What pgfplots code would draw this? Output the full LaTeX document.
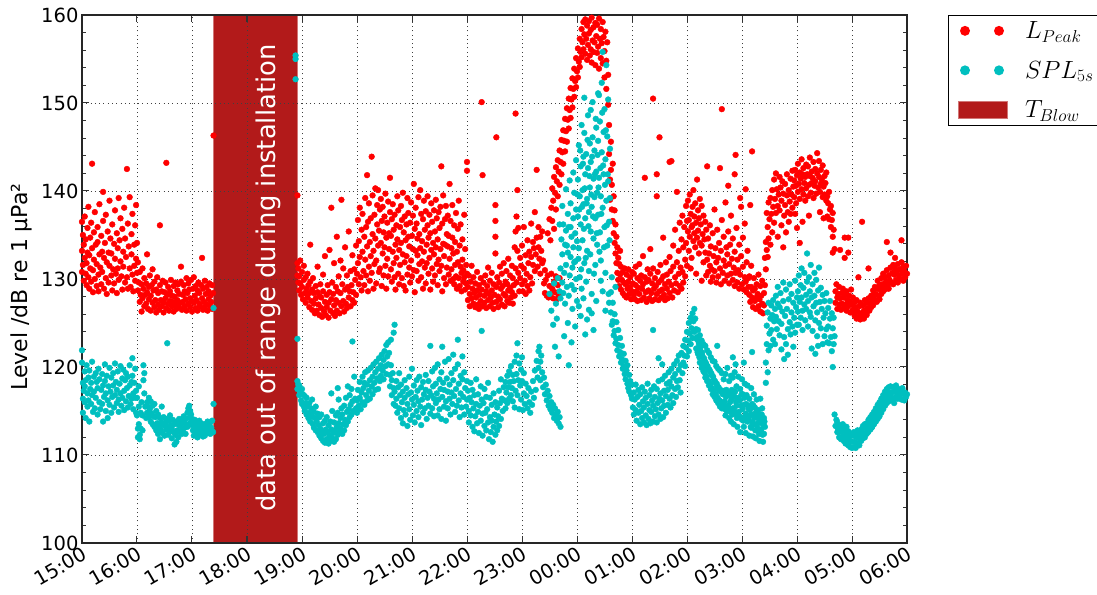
\documentclass[border=0pt]{standalone}
\usepackage[no-math]{fontspec}
\setmainfont{DejaVu Sans}
\usepackage{pgfplots}
\pgfplotsset{compat=1.18}
\definecolor{firebrick}{RGB}{178,26,26}
\definecolor{mplcyan}{RGB}{0,191,191}
\begin{document}
\begin{tikzpicture}
\begin{axis}[
  scale only axis, width=825pt, height=528pt,
  xmin=0, xmax=900, ymin=100, ymax=160,
  xtick={0,60,...,900},
  xticklabels={15:00,16:00,17:00,18:00,19:00,20:00,21:00,22:00,23:00,00:00,01:00,02:00,03:00,04:00,05:00,06:00},
  ytick={100,110,...,160},
  minor y tick num=4,
  tick align=inside,
  major tick length=7pt, minor tick length=4pt,
  every tick/.style={black!80, line width=1pt},
  axis line style={black!85, line width=1.3pt},
  grid=major,
  major grid style={black!75, line width=0.9pt, dash pattern=on 1pt off 3.3pt},
  axis on top,
  ticklabel style={font=\fontsize{19.5}{22}\selectfont},
  /pgf/number format/assume math mode=true,
  xticklabel style={rotate=30, anchor=north east, inner sep=2pt},
  ylabel={Level /dB re 1 µPa²},
  ylabel style={font=\fontsize{22}{24}\selectfont, yshift=2pt, xshift=-8pt},
  legend style={at={(1,1)}, anchor=north west, xshift=41pt, draw=black, line width=1.2pt, fill=white, inner xsep=9pt, inner ysep=4pt, row sep=17pt, font=\fontsize{26}{30}\selectfont, cells={anchor=west}},
]
\addplot[fill=firebrick, draw=firebrick!60!white, line width=0.8pt, forget plot] coordinates {(143.5,100)(234.5,100)(234.5,160)(143.5,160)(143.5,100)};
\node[rotate=90, text=white, font=\fontsize{25.8}{30}\selectfont] at (axis cs:203,130.1) {data out of range during installation};

% L_Peak
\addplot[only marks, mark=*, mark size=2.9pt, color=red, mark options={draw=none},
 legend image code/.code={\path[draw=none,fill=none] (-7pt,-8.5pt) rectangle (58pt,8.5pt); \fill[red, draw=none] (0pt,0pt) circle (5pt); \fill[red, draw=none] (34pt,0pt) circle (5pt);}]
coordinates {
(0,136.5)(0,133.2)(0,130.8)(1,135)(1,131.6)(2,129.8)(2,133.9)(3,132.4)(3,137.1)(4,130.6)(4,134.5)(5,131.8)(5,129.3)(6,135.8)(6,133)(7,130.2)(7,138.2)(8,132.7)(8,128.9)(9,134.7)(9,131.2)(10,136.4)(10,129.7)(11,143.1)(11,133.5)(12,131)(12,128.5)(13,135.3)(13,132.2)(14,130)(14,137.6)(15,133.9)(16,129.2)(16,131.7)(17,135.9)(17,134.2)(18,130.5)(18,128.6)(19,132.8)(19,138.5)(20,131.3)(21,129.4)(21,134.9)(22,133.1)(22,130.8)(23,139.9)(23,136.6)(24,128.9)(24,132.4)(25,134.1)(26,130.1)(26,137.3)(27,131.9)(27,128.3)(28,135.4)(29,133)(29,129.6)(30,131.5)(30,138.9)(31,134.6)(32,130.4)(32,132.9)(33,136.2)(33,128.7)(34,131.1)(35,134)(35,129.5)(36,137.8)(36,132.3)(37,130.6)(38,135.2)(38,128.4)(39,133.5)(39,131.2)(40,139.2)(40,129.9)(41,134.4)(42,132)(42,136.9)(43,130.3)(44,128.8)(44,135.7)(45,133.1)(45,131.4)(46,138.1)(47,129.6)(47,134.6)(48,132.5)(49,142.5)(49,130.2)(50,136.3)(50,128.9)(51,133.7)(52,131.2)(52,139.3)(53,129.1)(54,135.1)(54,132.8)(55,130.5)(55,137.4)(56,128.6)(57,133.9)(57,131.5)(58,136.1)(58,129.8)(59,138.4)(59,132.3)(60,130.7)(60,134.1)
(61,131.9)(61,128.7)(62,129.6)(63,127.4)(63,130.8)(64,128.2)(65,126.3)(65,129.4)(66,131.2)(66,127.8)(67,128.9)(68,126.9)(68,130.1)(69,128.2)(70,127.2)(70,129.5)(71,132.8)(71,128.5)(72,126.6)(73,129.1)(73,127.7)(74,130.4)(75,128.1)(75,126.4)(76,129.3)(77,127.3)(77,131.1)(78,128.7)(79,126.8)(79,129.7)(80,127.6)(81,128.8)(81,126.2)(82,130.2)(83,127.1)(83,128.4)(84,126.5)(85,136.1)(85,129.3)(86,127.6)(87,128.6)(87,126.9)(88,129.8)(89,127.3)(89,126.2)(90,128.5)(91,127.8)(91,129.6)(92,143.2)(92,126.7)(93,128.2)(94,127.2)(94,129.1)(95,126.4)(96,128.6)(96,127.5)(97,129.9)(98,126.9)(98,128.1)(99,127.4)(100,129.2)(100,126.3)(101,128)(102,127.1)(102,129.6)(103,126.6)(104,128.7)(104,127.6)(105,129.4)(106,126.8)(106,128.3)(107,127.3)(108,131.4)(108,129.7)(109,126.5)(110,128.2)(110,127.4)(111,129.3)(112,126.9)(112,128.6)(113,127.7)(114,130.1)(114,126.4)(115,128.4)(116,127.2)(116,129.5)(117,128.8)(118,126.8)(118,127.8)(119,129.9)(120,127.5)(120,126.3)(121,128.9)(122,127.3)(122,130.2)(123,128.1)(124,126.7)(124,129.2)(125,127.6)(126,128.7)(126,126.4)(127,129.6)(128,127.2)(128,128.4)(129,126.9)(130,129.3)(131,132.4)(131,127.8)(132,126.5)(132,128.9)(133,127.4)(134,129.8)(134,126.8)(135,128.3)(136,127.1)(136,129.1)(137,126.4)(138,128.6)(138,127.7)(139,129.5)(140,126.9)(140,128.1)(141,127.4)(142,129.3)(142,126.6)(143,128.4)(143.5,146.3)
(235,139.5)(235,131.8)(235,130.4)(236,129.6)(236,131.2)(237,130.3)(237,128.7)(238,132.1)(238,129.5)(239,128.2)(240,130.8)(240,129.1)(241,127.7)(242,129.9)(242,131.5)(243,128.4)(244,130.2)(244,127.3)(245,128.9)(246,130.6)(246,127.9)(247,129.3)(248,126.8)(248,128.4)(249,133.9)(249,129.7)(250,127.5)(251,128.8)(251,126.5)(252,130.1)(253,127.2)(253,128.4)(254,126.1)(255,129.2)(255,127.8)(256,126.4)(257,128.5)(257,131.4)(258,127.1)(259,125.9)(259,128.1)(260,129.4)(261,126.7)(261,127.9)(262,125.7)(263,128.6)(263,130.5)(264,126.3)(265,127.4)(265,132.6)(266,125.9)(267,128.2)(267,126.8)(268,129.3)(269,127.3)(269,125.6)(270,133.3)(270,128.5)(271,126.4)(272,138.1)(272,127.7)(273,129.6)(274,126.1)(274,128.3)(275,131.8)(275,127)(276,125.8)(277,129.1)(277,127.6)(278,134.8)(278,126.4)(279,128.6)(280,130.3)(280,127.3)(281,126.1)(282,132.1)(282,128.4)(283,139)(283,126.9)(284,129.4)(285,127.5)(285,131.2)(286,126.3)(287,128.8)(287,133.6)(288,127.2)(289,130.4)(289,126.7)(290,129.1)(291,127.9)(291,135.4)(292,128.6)(293,126.9)(293,130.9)(294,129.3)(295,127.6)(295,132.7)(296,128.5)(297,131.1)(297,127.3)(298,129.9)(299,133.8)(299,128.2)(300,130.6)
(301,136.7)(301,131.8)(302,129.4)(302,134.3)(303,138.1)(303,132.5)(304,130.2)(305,135.6)(305,128.7)(306,133.1)(306,137.4)(307,130.9)(308,134.8)(308,129.3)(309,139.2)(309,132.2)(310,135.9)(310,130.4)(311,141.8)(311,133.7)(312,128.6)(312,136.5)(313,131.4)(313,138.6)(314,134.2)(314,129.8)(315,136.9)(315,132.6)(316,143.9)(316,130.7)(317,135.1)(317,139.5)(318,133.2)(318,128.9)(319,137.3)(319,131.7)(320,134.6)(320,140.3)(321,132.1)(321,129.5)(322,136.2)(322,138.4)(323,140.1)(323,133.8)(324,130.8)(324,135.5)(325,137.9)(325,131.2)(326,134.1)(326,139.1)(327,129.2)(327,136.6)(328,132.9)(328,138.2)(329,135.3)(329,130.4)(330,133.6)(330,137.1)(331,131.5)(331,139.7)(332,134.7)(332,128.9)(333,136.4)(333,132.3)(334,138.8)(334,130.3)(335,135.2)(335,133.4)(336,141.5)(336,137.6)(337,131.1)(337,134.9)(338,129.7)(338,136.8)(339,133.1)(339,138.5)(340,131.8)(340,135.6)(341,130.2)(341,137.3)(342,133.9)(342,128.8)(343,136.1)(343,132.4)(344,139.4)(344,134.5)(345,130.6)(345,137.8)(346,133.3)(346,129.4)(347,135.9)(347,131.6)(348,138.3)(348,134.1)(349,130.1)(349,136.7)(350,132.8)(350,139.8)(351,135.3)(351,129.2)(352,137.1)(352,131.9)(353,134.4)(353,128.7)(354,136.2)(354,132.6)(355,139.2)(355,130.5)(356,134.8)(356,137.5)(357,131.3)(357,133.7)(358,129.6)(358,136.4)(359,138.7)(359,132.1)(360,134.9)(360,130.3)(361,137.2)(361,133.4)(362,140.8)(362,131)(363,135.7)(363,128.5)(364,133.2)(364,138.1)(365,130.9)(365,136.3)(366,132.7)(366,134.6)(367,139.3)(367,129.8)(368,135.1)(368,131.7)(369,140.1)(369,133.5)(370,137.4)(370,130.2)(371,134.3)(371,132)(372,136.8)(372,128.9)(373,138.9)(373,133.1)(374,131.3)(374,135.6)(375,129.5)(375,137.7)(376,133.9)(376,131.8)(377,136.1)(377,139.4)(378,130.6)(378,134.7)(379,132.4)(379,137.3)(380,128.8)(380,135.2)(381,133.3)(381,138.6)(382,131.2)(382,136.5)(383,134.1)(383,129.7)(384,137.8)(384,132.8)(385,135.4)(385,130.4)(386,139)(386,133.6)(387,131.7)(387,136.9)(388,129.3)(388,134.5)(389,137.6)(389,132.2)(390,135.8)(390,130.9)(391,138.2)(391,133.4)(392,142.8)(392,131.5)(393,136.3)(393,128.6)(394,134)(394,139.5)(395,132.6)(395,130.1)(396,136.8)(396,133.9)(397,129.4)(397,138.3)(398,135.1)(398,131.3)(399,133.7)(399,137.2)(400,130.5)(400,134.9)(401,140.8)(401,132.3)(402,129.8)(402,136.6)(403,133.5)(403,131.1)(404,138.4)(404,134.7)(405,130)(405,132.9)(406,136.1)(406,129.4)(407,134.2)(407,131.6)(408,137.5)(408,130.3)(409,133.1)(409,128.9)(410,135.7)(410,131.9)(411,130.1)(411,138.9)(412,133.8)(412,129.2)(413,131.4)(413,136.2)(414,130.7)(414,128.6)(415,134.5)(415,132.2)(416,129.7)(416,131)(417,137.3)(417,130.2)(418,128.8)(418,133.4)(419,131.6)(419,129.5)(420,143.3)(420,142.3)(420,130.6)
(421,129.1)(421,127.6)(422,130.4)(423,128.3)(423,126.9)(424,129.7)(425,127.8)(425,131.5)(426,128.9)(427,127.2)(427,130.2)(428,128.4)(429,126.8)(429,129.5)(430,127.9)(431,130.8)(431,128.7)(432,127.1)(433,129.3)(433,126.6)(434,128.2)(435,130.1)(435,127.5)(436,128.8)(436,150.1)(437,141.8)(437,126.9)(438,129.6)(439,128.1)(439,127.3)(440,130.4)(441,128.6)(441,126.7)(442,129.2)(443,127.6)(443,131.3)(444,128.3)(445,126.9)(445,129.8)(446,127.9)(447,128.7)(447,130.7)(448,127.3)(449,129.4)(449,126.6)(450,128.2)(451,134.8)(451,136.6)(451,138.4)(451,132.9)(452,129.1)(452,127.4)(452,146.1)(453,130.2)(454,128)(454,126.8)(455,129.6)(456,131.4)(456,127.7)(457,128.9)(458,130.6)(458,127.1)(459,129.2)(460,128.3)(460,131.8)(461,126.9)(462,129.7)(462,128.1)(463,130.9)(464,127.5)(464,129.4)(465,132.3)(465,128.7)(466,127.3)(467,130.4)(467,129)(468,127.9)(469,131.5)(469,128.5)(470,127.2)(470,130.1)(471,129.3)(472,133.6)(472,128.1)(473,135.4)(473,131.2)(473,148.8)(474,137.1)(474,129.6)(475,140.1)(475,133.2)(476,130.7)(476,135.8)(477,128.6)(478,132.4)(478,130.1)
(479,131.5)(480,129.4)(480,133.8)(481,128.6)(482,131.2)(482,135.9)(483,129.8)(484,132.7)(484,128.3)(485,130.6)(486,134.4)(486,129.2)(487,131.8)(488,128.7)(488,133.1)(489,130.2)(490,132.5)(490,136.3)(491,129.5)(492,134.2)(492,131.6)(493,133.5)(494,137.6)(494,130.9)(495,132.8)(496,142.4)(496,134.7)(497,131.4)(498,133.6)(498,135.9)(499,132.3)(500,134.8)(500,130.6)(501,133.2)(502,135.4)(502,131.8)(503,132.1)(504,129.5)(505,131)(505,128.4)(506,129.9)(507,128.1)(508,130.4)(509,127.9)(510,129.2)(511,128.3)(512,130.6)(513,128.9)(514,127.8)(515,129.7)(516,128.5)(517,130.3)(518,127.7)(519,129.3)(520,128.1)(521,130.1)
(508,135.2)(510,136.8)(511,134.4)(512,138.1)(513,136.6)(513,140.3)(514,138.9)(515,141.6)(515,135.7)(516,139.8)(517,142.7)(517,137.9)(518,141.1)(519,143.5)(519,139.4)(520,142.2)(521,144.6)(521,140.7)(522,143.3)(523,145.8)(523,141.9)(524,144.4)(525,146.9)(525,143.1)(526,145.7)(527,148.2)(527,144.5)(528,146.8)(529,149.4)(529,145.6)(530,148.1)(531,150.5)(531,147.1)(532,149.2)(533,151.7)(533,148.3)(534,150.4)(535,152.8)(535,149.5)(536,151.6)(537,153.9)(537,150.7)(538,152.5)(539,155.1)(539,151.8)(540,153.6)(541,156.2)(541,152.9)(542,154.7)(543,157.3)(543,154.1)(544,155.8)(545,158.4)(545,155.2)(546,156.9)(547,159.2)(547,156.1)(548,157.8)
(549,159.5)(549,155.6)(550,157.3)(551,158.8)(551,154.9)(552,156.6)(553,159.3)(553,157.9)(554,155.4)(555,158.3)(555,156.1)(556,159.7)(556,154.6)(557,157.1)(558,158.6)(558,155.8)(559,156.9)(560,159.1)(560,154.3)(561,157.6)(562,155.7)(562,158.9)(563,156.4)(564,159.6)(564,153.9)(565,157.3)(566,155.1)(566,158.4)(567,156.8)(568,154.5)(568,159.2)(569,157.5)(570,152.9)(570,155.9)(571,158.1)(572,151.6)(572,154.8)(573,156.9)(574,149.8)(574,153.2)
(575,147.5)(575,144.2)(576,141.3)(576,139)(577,145.6)(577,142.4)(578,140.7)(578,137.9)(579,143.1)(579,136.6)(580,139.4)(580,135.2)(581,137.8)(581,134.1)(582,136.2)(582,132.9)(583,134.8)(583,131.8)(584,133.6)(584,130.7)(585,132.4)(585,129.9)(586,131.7)(586,129.2)(587,133.2)(587,130.5)(588,128.8)(588,131.4)(589,129.9)(590,128.4)(590,130.8)(591,129.6)(592,128.1)(592,131.2)(593,129.4)(594,127.9)(594,130.5)(595,128.9)(596,131.1)(596,129.7)(597,128.3)(598,130.2)(598,129.1)(599,127.7)(600,130.8)(600,128.6)
(601,129.5)(602,128.2)(602,130.6)(603,127.7)(604,129.3)(604,131.4)(605,128.6)(606,130.1)(606,127.5)(607,129)(608,131.7)(608,128.3)(609,129.8)(610,127.6)(610,130.4)(611,128.9)(612,132.6)(612,129.4)(613,127.9)(614,141.5)(614,130.2)(615,128.5)(616,129.7)(616,127.4)(617,131.1)(618,128.7)(618,129.9)(619,127.8)(620,130.6)(620,133.4)(621,128.4)(622,129.5)(622,127.5)(623,150.5)(623,131.2)(624,128.9)(625,130.1)(625,127.7)(626,129.2)(627,141.9)(627,139.4)(627,128.3)(628,130.8)(629,127.6)(629,129.6)(630,146.1)(630,128.6)(631,131.6)(632,129.9)(632,127.9)(633,128.8)(634,134.7)(634,130.3)(635,128.2)(636,129.4)(636,127.6)(637,131.9)(638,128.9)(638,130.5)(639,127.8)(640,129.7)(641,143.3)(641,132.5)(641,128.4)(642,130.9)(643,143.4)(643,129.3)(644,127.9)(645,131.4)(645,133.8)(646,128.7)(647,130.2)(647,135.6)(648,129.5)(649,139.9)(649,131.9)(650,128.5)(651,133.2)(651,130.6)(652,136.4)(652,129.2)(653,131.3)(654,134.5)(654,128.9)(655,137.2)(655,130.8)(656,133.6)(656,129.6)(657,135.9)(658,132.2)(658,130.3)(659,138.3)(659,134.1)(660,131.5)(660,136.6)
(661,135.4)(661,138.9)(662,133.2)(662,136.7)(663,139.6)(663,134.8)(664,137.4)(664,131.2)(665,135.9)(665,132.4)(666,138.2)(666,136.1)(667,134.3)(667,140.1)(668,137.1)(668,135.2)(669,133.6)(669,138.6)(670,136.4)(670,130.6)(671,141.3)(671,134.7)(672,137.8)(672,135.5)(673,132.9)(673,136.9)(674,139.1)(674,134.1)(675,136.2)(676,133.8)(676,138.3)(676,129.8)(677,135.1)(678,131.9)(678,137.2)(679,134.5)(680,136.5)(680,133)(681,135.6)(681,130.4)(682,142.8)(682,132.2)
(683,134.6)(683,130.8)(684,132.9)(685,136.1)(685,131.5)(686,129.7)(686,133.7)(687,131.1)(688,135.2)(688,130.2)(689,132.6)(690,137.9)(690,130.9)(691,133.5)(692,129.6)(692,131.9)(693,135.6)(694,132.4)(694,130.3)(695,134.1)(696,142.6)(696,131.2)(697,129.4)(697,133.2)(698,149.3)(698,136.7)(699,130.7)(700,132.1)(700,134.8)(701,129.8)(702,131.5)(702,138.7)(703,133.6)(704,130.4)(704,132.8)(705,135.4)(705,140.6)(706,129.5)(706,131.7)(707,133.9)(708,130.6)(708,137.2)(709,132.3)(710,129.9)(710,134.6)(711,131.3)(712,133.1)(712,129.2)(712,141.9)(713,144.1)(713,130.7)(714,135.8)(715,132.2)(715,129.6)(716,131)(717,133.9)(717,128.9)(718,130.5)(718,139.2)(719,132.6)(719,138.2)(720,129.4)(721,131.4)(721,134.7)(722,128.8)(723,130.2)(723,136.3)(724,129.7)(724,140.2)(725,131.9)(725,128.5)(726,133.2)(727,130.1)(727,129.1)(729,138.4)(731,144.5)
(728,128.2)(728,130.3)(729,127.4)(730,129.1)(730,131.5)(731,127.9)(732,128.7)(732,126.8)(733,130.1)(734,127.5)(734,128.9)(735,126.6)(736,129.4)(736,127.9)(737,128.3)(738,130.5)(738,126.9)(739,127.7)(740,129.2)(740,126.3)(741,128.1)(742,127.2)(742,129.8)(743,126.1)(744,128.4)(744,127)(745,129.3)(745,132.4)
(746,134.2)(746,131.1)(747,133.3)(747,137.5)(748,135.9)(748,132.5)(749,138.7)(749,134.6)(750,136.8)(751,139.2)(751,133.9)(752,137.4)(753,135.3)(753,140.1)(754,138.2)(755,136.4)(755,141.3)(756,139.1)(757,137.5)(757,142)(758,140.2)(759,138.3)(759,134.8)(760,139.6)(761,141.6)(761,137.8)(762,140.4)(763,138.9)(763,136.1)(764,141.1)(765,139.7)(765,133.6)(766,137.2)(767,140.8)(767,138.4)(768,135.3)(769,139.5)(769,141.9)(770,137.6)(771,140.1)(771,136.5)(772,138.8)(773,141.4)(773,137.4)(774,139.6)(775,142.3)(775,138.1)(776,140.5)
(777,141.2)(777,139.3)(778,142.4)(778,137.4)(779,140.6)(779,138.6)(780,141.8)(780,135.8)(781,139.9)(781,143.1)(782,140.8)(783,142.1)(783,139.1)(783,134.1)(784,141.4)(785,140.2)(785,143.6)(786,141.9)(786,136.5)(787,139.6)(787,142.6)(788,140.9)(789,138.9)(789,141.6)(790,143)(790,140.3)(791,141.9)(792,139.4)(792,142.8)(793,140.7)(793,137.2)(794,141.7)(794,143.8)(795,139.8)(796,142.2)(796,140.9)(797,141.5)(798,139.2)(798,143.3)(799,140.6)(800,142.5)(800,141.1)(801,139.7)(802,144.3)(802,142)(803,140.4)(804,141.6)(804,143.4)(805,139.9)(805,137.6)(806,142.4)(806,140.8)(807,141.3)(808,139.3)(808,142.9)(809,140.5)(809,136.9)(810,141.7)(810,139.6)(811,140.9)(812,142.1)(812,138.9)
(813,139.4)(813,137.1)(814,138.6)(815,136.8)(815,139.9)(816,137.9)(817,135.9)(817,138.3)(818,136.7)(819,134.8)(819,137.5)(819,133)(820,135.6)(821,133.4)
(822,128.6)(822,127.3)(823,129.4)(824,127.9)(824,126.6)(825,128.3)(826,127.1)(826,129.1)(827,133.3)(827,127.8)(828,126.5)(829,128.4)(829,127.2)(830,128.9)(831,126.7)(831,127.9)(832,132.4)(832,128.2)(832,134.7)(833,127.1)(834,126.4)(834,128.6)(835,127.6)(836,134.7)(836,126.9)(836,133)(837,128.1)(838,127.4)(838,126.2)(839,128.8)(840,127.1)(841,126.5)(841,127.9)(842,126.1)(843,127.4)(843,125.8)(844,126.8)(845,125.5)(845,127.6)(846,126.3)(847,130.2)(847,125.7)(848,126.9)(849,125.4)(849,127.3)(850,126.1)(851,136.5)(851,125.8)(852,127)(853,126.4)(853,125.5)(854,127.6)(855,126.2)(856,125.9)(856,127.3)(857,126.7)(858,131.2)(858,127.8)(859,126.4)(860,127.2)(861,128.1)(861,126.8)(862,127.6)(863,128.7)(863,127)(864,128.1)(865,127.6)(865,129.1)(866,128.3)(867,127.4)(868,128.9)(868,129.8)(869,128.1)(870,129.3)(870,127.7)(871,128.8)(872,130.1)(872,128.3)(873,129.4)(874,128.6)(874,130.6)(875,129.1)(876,130.2)(876,128.8)(877,129.7)(878,134.2)(878,131)(879,129.3)(880,130.4)(880,128.9)(881,129.9)(882,133)(882,131.3)(883,129.6)(884,130.7)(885,131.6)(885,129.4)(886,130.5)(887,132.4)(887,131.2)(888,129.9)(889,130.8)(890,131.7)(890,129.6)(891,130.4)(892,131.1)(893,130)(894,131.9)(894,134.4)(895,130.6)(896,129.8)(896,131.4)(897,130.9)(898,130.2)(899,131.5)(900,130.6)
};
\addlegendentry{$L_{Peak}$}

% SPL_5s
\addplot[only marks, mark=*, mark size=2.9pt, color=mplcyan, mark options={draw=none},
 legend image code/.code={\path[draw=none,fill=none] (-7pt,-8.5pt) rectangle (58pt,8.5pt); \fill[mplcyan, draw=none] (0pt,0pt) circle (5pt); \fill[mplcyan, draw=none] (34pt,0pt) circle (5pt);}]
coordinates {
(0,121.9)(0,120.5)(1,118.2)(1,116.4)(1,114.8)(2,117.3)(3,119.5)(3,117.8)(3,116)(4,114.2)(4,118.5)(5,120.2)(6,117)(6,115.5)(7,118.8)(7,116.2)(8,113.8)(8,119.6)(9,117.5)(10,115.8)(10,118.2)(11,120.6)(11,116.8)(12,114.9)(13,118.9)(13,117.2)(14,115.3)(15,119.3)(15,116.5)(16,118.3)(17,114.6)(17,117.6)(18,119.8)(19,116)(19,118.6)(20,115.2)(21,117.4)(22,119.2)(22,115.8)(23,113.8)(23,117.9)(24,116.6)(25,120.3)(25,118.4)(26,115)(26,117)(27,119)(28,116.2)(28,114.2)(29,117.8)(30,119.9)(30,115.7)(31,117.2)(32,118.8)(32,114.8)(33,116.6)(34,119.3)(34,117.9)(35,115.4)(36,116.8)(36,120.4)(37,118.3)(38,115.9)(38,117.4)(39,119.5)(40,116.3)(40,114.9)(41,118.1)(42,117)(42,120.1)(43,115.6)(44,118.7)(44,116.5)(45,119.7)(46,117.3)(46,115.1)(47,118.5)(48,116.1)(48,119.3)(49,117.6)(50,115.4)(50,118.9)(51,116.7)(52,120.2)(52,117.9)(53,115.8)(54,118.3)(54,116.4)(55,121)(55,119)(56,117)(56,115.2)(57,118.2)(58,116.5)(58,119.8)(59,114.8)(59,117.3)
(60,116.5)(60,114.5)(61,113)(61,112)(62,117.8)(62,115.5)(62,113.5)(63,112.3)(63,111.8)(64,114.8)(64,113)(65,116)(66,114.5)(66,112.8)(67,118.5)(67,120.2)(68,119.3)(68,117)(69,115.5)(70,114.2)
(71,116)(71,114.8)(72,115.5)(73,114.3)(73,116.5)(74,115.2)(75,113.8)(75,116.1)(76,114.7)(77,115.6)(77,113.5)(78,114.4)(79,115.8)(79,113.2)(80,114.3)(81,112.8)(81,115)(82,113.6)(83,114.6)(83,112.4)(84,113.3)(85,114.2)(85,111.8)(86,112.9)(87,115.5)(87,113.7)(88,112.5)(89,113.4)(89,114.3)(90,112.2)(91,113.6)(92,112.9)(92,114.1)(93,122.7)(93,113.2)(94,112.3)(95,113.9)(96,112.7)(96,114.5)(97,113.4)(98,111.9)(98,113)(99,114)(100,112.6)
(101,111.2)(101,113.5)(102,112.3)(103,111.5)(103,113.8)(104,112.8)(105,113.5)(105,112)(106,114.1)(107,112.6)(107,113.3)(108,114)(109,112.4)(109,113.6)(110,112.9)(111,113.9)(111,114.4)(112,113.1)(113,112.4)(113,114.1)(114,113.5)(115,114.8)(115,113.2)(116,115.3)(117,115.6)(117,114.2)(118,115)(118,113.6)(119,114.6)(120,113.4)(120,114.1)
(121,112.8)(122,113.6)(122,112.2)(123,114)(124,113.1)(124,112.5)(125,113.7)(126,112)(126,113.3)(127,112.7)(128,113.9)(128,112.3)(129,113)(130,112.4)(130,113.6)(131,112.8)(132,112.1)(132,113.4)(133,112.7)(134,113.5)(134,112.2)(135,112.9)(136,113.4)(136,112.5)(137,113.8)(138,112.6)(138,113.2)(139,112.9)(140,113.7)(140,112.4)(141,113.1)(142,112.7)(142,113.9)(143,112.6)(143.5,126.7)(143.5,115.8)
(233,155.4)(233,155)(233,152.7)(235,123.2)
(235,118.4)(235,117.5)(236,118)(237,116.8)(237,117.9)(238,117.2)(239,116.2)(240,117.5)(240,115.8)(241,116.9)(242,115.5)(243,116.7)(243,115)(244,115.9)(245,116.5)(245,114.6)(246,115.5)(247,114.2)(248,115.9)(248,114.8)(249,113.8)(250,115.3)(251,114.4)(251,116.3)(252,113.5)(253,114.9)(253,113.1)(254,114.2)(255,115.5)(255,112.8)(256,113.8)(257,114.7)(257,112.6)(258,113.4)(259,112.2)(259,114.3)(260,113)(261,111.9)(261,114.6)(262,112.7)(263,113.6)(263,111.6)(264,112.4)(265,113.9)(265,111.4)(266,112.9)(267,114.3)(267,111.8)(268,112.6)(269,113.4)(269,111.3)(270,112.2)(271,113.8)(271,111.6)(272,112.9)(272,117)(273,115)(273,111.9)(274,112.5)(275,113.7)(275,111.5)(276,112.8)(277,114.5)(277,111.8)(278,113.2)(279,112.3)(279,114.8)(279,117.6)(280,116.3)(280,113.6)(281,112.6)(282,114.2)(282,113)(283,115.3)(284,112.4)(284,114.6)(285,113.5)(286,115.6)(286,112.8)(287,114)(288,116.5)(288,113.4)(289,114.9)(290,117.8)(290,113.8)(291,115.2)(292,116.8)(292,114.3)(293,115.7)(294,117.5)(294,114.6)(295,116.1)(295,122.9)(296,115)(297,118.9)(298,116.4)(299,115.3)
(300,116.2)(300,114.8)(301,117.4)(302,115.6)(303,118.3)(303,116.5)(304,115.2)(305,117.1)(306,118.9)(306,116)(307,117.6)(308,115.7)(308,118.2)(309,119.4)(310,116.8)(311,118)(311,116.2)(312,119.6)(313,117.3)(314,118.5)(314,116.4)(315,119.9)(316,117.8)(317,118.9)(317,116.9)(318,120.3)(319,118.2)(320,117.4)(320,119.4)(321,120.6)(322,118.7)(323,117.5)(323,119.8)(324,121)(325,118.4)(326,120.2)(326,119)(327,121.4)(328,119.6)(329,118.6)(329,120.8)(330,121.8)(331,120.1)(332,122.5)(332,119.2)(333,121.2)(334,122.8)(334,120.3)(335,121.6)(336,119.1)(336,117.8)(337,120.2)(338,118.5)(338,116.8)(339,119.3)(340,117.6)(340,115.8)(341,124.8)(340,123.9)(337,123.1)
(341,117.2)(342,115.6)(343,118.4)(343,116.4)(344,114.8)(345,117.7)(346,115.3)(346,119.3)(347,116.8)(348,114.2)(348,118)(349,116)(350,113.6)(350,117.2)(351,115.1)(352,118.5)(352,116.5)(353,114.6)(354,117.6)(355,115.8)(355,113.3)(356,116.9)(357,118.9)(357,115.2)(358,114)(359,117.1)(360,119.8)(360,116.3)(361,114.5)(362,117.9)(362,115.7)(363,113.7)(364,116.6)(365,118.5)(365,115)(366,117.3)(367,114.3)(367,116.1)(368,118.9)(369,115.5)(370,117.7)(370,113.4)(371,116.3)(372,114.8)(372,118.3)(373,116.9)(374,115.3)(375,119.1)(375,117.4)(376,114.1)(377,116.5)(378,118.4)(378,115.6)(379,117.2)(380,122.4)(380,114.7)(381,116.8)(382,119.5)(382,115.3)(383,117.8)(384,114.4)(384,116.4)(385,119.9)(386,118.1)(386,115.9)(387,117)(388,114.5)(388,120.3)(389,116.3)(390,118.6)(390,115.2)(391,117.5)(392,119.4)(392,114.1)(393,122.3)(393,116.6)(394,118.2)(395,115.5)(395,117.4)(396,120.6)(397,116.1)(397,113.9)(398,118.7)(399,117.2)(399,115.3)(400,120.9)(401,118)(401,116.4)(402,114.6)(403,119.3)(403,117.1)(404,115.8)(405,121.4)(405,118.5)(406,116.7)(407,114.9)(407,119.8)(408,117.5)(409,115.6)(410,123.1)(410,120.3)(411,118.1)(411,116.2)(412,114.3)(413,119)(413,117)(414,115.4)(415,121.2)(415,118.6)(416,116.6)(417,114.6)(417,119.4)(418,117.6)(419,115.5)(420,118.4)(420,116.3)
(421,117.3)(422,115)(422,113.7)(423,116.5)(424,118.2)(424,114.5)(425,116)(426,113.2)(426,117.4)(427,115.3)(428,112.7)(428,116.8)(429,114.4)(430,118.6)(430,115.8)(431,113.6)(432,116.9)(432,114.9)(433,112.5)(434,115.6)(435,117.8)(435,113.9)(436,116.3)(436,124.1)(437,114.7)(437,112.2)(438,115.9)(439,117.5)(439,113.3)(440,114.8)(441,116.6)(441,112.8)(442,115.2)(443,113.7)(443,118.2)(444,111.8)(445,114.3)(445,116.5)(446,112.6)(447,113.9)(447,115.7)(448,111.5)(449,113.2)(449,117)(450,114.6)(451,112.3)(451,116)(452,113.8)(453,115.4)(453,112.8)(454,114.4)(455,117.3)(455,113.3)(456,115.9)(457,114.1)(457,118.6)(458,116.4)(459,115)(460,117.7)
(461,116.2)(462,118.3)(462,115.3)(463,117.1)(464,119)(464,115.9)(465,117.7)(466,116.4)(466,119.5)(467,118.3)(468,116.8)(468,120.1)(469,117.6)(470,119.1)(470,116.1)(471,118.4)(472,120.6)(472,115.4)(473,117.3)(474,121.3)(474,119.2)(475,122.7)(475,116.8)(476,118.5)(477,120.4)(477,115.2)(478,117.9)(479,119.7)(479,116.3)(480,121.1)(480,118.4)(481,115.1)(482,117)(482,119.3)(483,115.8)(484,118.1)
(485,116.7)(486,115.3)(487,117.6)(488,116)(489,114.8)(490,117.2)(491,115.7)(492,118.4)(493,116.5)(494,119.6)(495,117.4)(496,120.7)(497,118.8)(498,121.8)(498,119.9)(499,122.3)(500,120.6)(500,118.5)(501,121.3)(502,119.4)(503,117.7)(504,118.8)(505,116.9)(506,118)(507,116.2)(508,117.3)(509,115.6)(510,116.7)(511,115.2)(512,116)(513,114.8)(514,115.7)(515,114.2)(516,115.3)(517,114.6)(518,113.9)(519,114.9)(520,113.6)(521,114.3)(522,113.2)
(510,128.3)(512,126.4)(514,124.8)(515,129.5)(516,122.3)(517,127.2)(518,125.5)(519,130.1)(520,121.2)(521,128.6)
(522,131.2)(522,127.8)(523,134.5)(524,129.6)(524,132.8)(525,136.2)(525,128.4)(526,130.7)(527,133.9)(527,127.2)(528,135.5)(528,131.6)(529,129.1)(530,137.4)(530,133)(531,128.1)(531,135.9)(532,130.4)(533,132.5)(533,138.6)(534,129.3)(534,134.8)(535,126.6)(535,131.3)(536,136.9)(536,133.6)(537,128.8)(537,139.8)(538,132)(538,135.2)(539,130)(539,137.9)(540,127.5)(540,134.3)(526,123.5)(530,125)(534,122.8)(538,124.6)(531,120.2)
(521,136.2)(524,138.3)(528,140.2)(532,141.2)(536,142.1)(539,143.5)(529,133.8)(533,135.9)(537,131.9)
(541,141.3)(541,137.1)(542,133.5)(542,145.2)(543,139.4)(543,130.2)(544,142.8)(544,136.2)(545,147.5)(545,128.9)(546,140.1)(546,134.4)(547,143.9)(547,138.5)(548,131.8)(548,146.6)(549,136.9)(549,141.9)(550,129.7)(550,144.2)(551,139.1)(551,133.2)(552,148.6)(552,142.6)(553,137.6)(553,130.9)(554,145.4)(554,140.4)(555,135.4)(555,143.3)(556,128.3)(556,138.2)(557,150.1)(557,146.1)(558,141.4)(558,134.6)(559,139.3)(559,144.6)(560,131.6)(560,136.9)(561,142.2)(561,147.2)(562,139.8)(562,133.9)(544,125.8)(549,123.7)(553,126.5)(558,124.2)
(540.5,139.6)(541.5,132.3)(542.5,137.9)(543.5,144.6)(544.5,131.1)(545.5,138.2)(546.5,143.1)(547.5,135.7)(548.5,140.3)(549.5,132.4)(550.5,138.6)(551.5,145.8)(552.5,136)(553.5,141.7)(554.5,132.8)(555.5,139.6)(556.5,143.9)(557.5,137.1)(558.5,130.6)(559.5,141.9)(560.5,148.2)(561.5,135.2)(562.5,144.1)(563.5,140.4)(564.5,133.1)(565.5,142.6)(566.5,137.4)(567.5,148.9)(568.5,142.9)(569.5,133.6)(570.5,140.7)(571.5,146.9)(572.5,136.1)(573.5,141.9)(574.5,128.3)(575.5,134.4)(542,126.9)(547,127.8)(551,125.4)(556,126.1)(561,127.5)(566,129.8)(571,126.4)(548,150.6)(555,149.2)(563,151.1)
(563,145.7)(563,137.3)(564,150.9)(564,141.5)(565,135.3)(565,147.9)(566,139.4)(566,132.1)(567,144.4)(567,152.3)(568,138.1)(568,128.6)(568,155.8)(569,146.7)(569,141.9)(570,135.9)(570,149.3)(571,143.6)(571,130.7)(572,138.9)(572,154.3)(573,146.2)(573,133.8)(574,141.1)(574,150.4)(575,136.5)(575,127.3)(576,144.8)(576,139.2)
(577,128.5)(577,126.2)(578,124.8)(578,130.2)(579,127.3)(579,125.2)(580,123.6)(581,126)(581,124.1)(582,122.7)(582,129.1)(583,125.1)(583,123.2)(584,121.9)(585,124.2)(585,122.5)(586,121.2)(587,123.3)(587,121.7)(588,120.5)(589,122.4)(589,120.9)(590,119.8)(591,121.5)(591,120.1)(592,119.2)(593,120.7)(593,118.6)(594,119.6)(595,118.1)(595,120.2)(596,117.6)(597,119.1)(597,117.2)(598,118.4)(599,116.8)(600,118)(600,116.4)
(601,115.4)(602,117.1)(602,114.6)(603,116.3)(604,118)(604,115.1)(605,113.9)(606,116.6)(607,114.8)(607,117.4)(608,115.7)(609,113.5)(609,116.9)(610,115)(611,117.7)(611,114.2)(612,116.1)(613,113.7)(613,115.4)(614,117.2)(615,114.5)(615,116.5)(616,113.4)(617,115.8)(617,118.1)(618,114.1)(619,116.8)(619,115.1)(620,113.6)(621,117.4)(621,114.9)(622,116.2)(623,113.8)(623,115.6)(623,124.2)(624,117.8)(625,114.4)(625,116.6)(626,115.2)(627,113.7)(627,117.5)(628,115.9)(629,114.6)(629,118.4)(629,121)(630,116.4)(631,114.1)(631,117)(632,115.3)(633,118.6)(633,116.2)(633,120.3)(634,114.3)(635,117.3)(635,115.6)(636,119)(637,116.7)(637,114.8)(638,118.1)(639,115.7)(639,117.4)(640,119.4)(641,116.4)(641,118.3)(642,115.4)(643,117.8)(643,119.8)(644,116.8)(645,118.8)(645,115.9)(646,120.3)(647,117.5)(647,119.2)(648,116.6)(649,118.4)(649,120.7)(650,117.7)(651,119.7)(651,121.3)(652,118.5)(653,120.2)(653,117.1)(654,121.6)(655,119.3)
(656,120.5)(656,122.4)(657,121.3)(658,123.1)(658,120.1)(659,122.2)(660,124)(660,121.2)(661,123)(662,125)(662,121.8)(663,123.8)(664,125.6)(664,122.6)(665,124.4)(666,126.1)(666,123.3)(667,125.2)(668,126.6)(668,124)(669,125.5)
(670,124.3)(670,122.1)(671,123.4)(672,121.5)(672,124.2)(673,122.6)(674,120.5)(674,123.6)(675,121.8)(676,123)(676,119.9)(677,121.2)(678,122.6)(678,119.5)(679,120.8)(680,122.4)(680,118.8)(681,120.3)(682,121.9)(682,118.4)(683,119.8)(684,121.6)(684,117.9)(685,119.5)(686,121.1)(686,117.5)(687,119.1)(688,120.7)(688,116.9)(689,118.6)(690,120.6)(690,116.6)(691,118.2)(692,120.1)(692,116.2)(693,117.8)(693,122.4)(694,119.8)(694,115.9)(695,117.4)(696,119.6)(696,115.5)(697,117.2)(698,119.3)(698,115.3)(699,116.9)(700,118.6)(710,121.1)(731,121.7)(713,120.3)(722,120.5)
(670.5,123.2)(671.5,121.7)(672.5,122.9)(673.5,121.1)(674.5,122.2)(675.5,120.4)(676.5,121.6)(677.5,119.9)(678.5,121)(679.5,119.3)(680.5,120.5)(681.5,118.9)(682.5,120.1)(683.5,118.4)(684.5,119.7)(685.5,118.1)(686.5,119.3)(687.5,117.6)(688.5,118.9)(689.5,117.3)(690.5,118.4)(691.5,116.9)(692.5,118.1)(693.5,116.5)(694.5,117.7)(695.5,116.2)(696.5,117.4)(697.5,115.9)(698.5,117.1)(699.5,115.7)(700.5,117.3)(701.5,115.2)(702.5,116.6)(703.5,115)(704.5,117.1)(705.5,115.4)(706.5,116.9)(707.5,114.9)(708.5,116.3)(709.5,114.6)(710.5,116.9)(711.5,115.1)(712.5,117.2)(713.5,116)(714.5,114.2)(715.5,116.4)(716.5,114.9)(717.5,116.2)(718.5,114.3)(719.5,116.9)(720.5,115.2)(721.5,113.9)(722.5,116.5)(723.5,114.4)(724.5,115.8)(725.5,113.9)(726.5,115.6)(727.5,114)(728.5,115.1)(729.5,113.2)(730.5,115.4)(731.5,113.7)(732.5,115.6)(733.5,114.2)(734.5,112.8)(735.5,114.9)(736.5,113.3)(737.5,114.5)(738.5,112.4)(739.5,113.9)(740.5,112.9)(741.5,114.6)(742.5,112.3)(743.5,113.4)(744.5,113.8)
(701,116.1)(702,119.2)(702,114.5)(703,117.4)(704,115.6)(704,119.9)(705,116.8)(706,114.2)(706,118.4)(707,116)(708,119)(708,113.8)(709,117.4)(710,115.3)(710,118.8)(711,113.5)(712,116.6)(712,119.4)(713,114.7)(714,117.8)(714,115.6)(715,113.2)(716,116.5)(716,118.9)(717,114.4)(718,117.5)(718,112.6)(719,115.6)(720,118.6)(720,114)(721,116.9)(722,113.2)(722,115.7)(723,118.1)(724,114.7)(724,112.5)(725,116.8)(726,113.8)(726,117.9)(727,115.3)(728,112.2)(728,116.4)(729,114.5)(730,117.6)(730,113.1)(731,115.8)(732,112.1)(732,114.6)(733,116.9)(734,113.5)(734,115.4)(735,111.9)(736,114.3)(736,116.3)(737,112.8)(738,115.1)(738,113.7)(739,111.6)(740,114.5)(740,116.4)(741,112.7)(742,115.3)(742,113.6)(743,111.5)(744,114.2)(744,112.4)(745,113.2)
(746,118.2)(746,120.5)(747,122.6)(747,124.7)(748,126.2)(748,119.4)(749,121.9)(749,127.3)(750,123.8)(751,125.5)(751,122.4)(752,127)(752,124.2)(753,125.9)(754,123.1)(754,127.6)(755,125.2)(756,126.6)(756,122.6)
(757,128.1)(757,125.7)(758,124.3)(759,127.2)(759,129.1)(760,125.2)(761,126.8)(761,123.6)(762,128.4)(763,124.9)(763,122)(764,126.3)(765,129.6)(765,127.5)(766,123.4)(766,120.9)(767,125.8)(768,128.8)(768,122.6)(769,126.6)(770,124.3)(770,121.4)(771,127.7)(772,125.1)(772,129.4)(773,123.7)(774,126.2)(774,128.3)(775,124.6)(776,122.3)(776,127.3)(777,125.6)(778,129.8)(778,123.9)(779,126.8)(780,124.8)(780,127.9)
(781,128.6)(781,126.3)(782,130.4)(782,124.8)(783,127.4)(784,129.3)(784,125.6)(785,131.2)(785,127.9)(786,126.4)(786,124.2)(787,129)(788,127.1)(788,130.7)(789,125.3)(790,128.2)(790,126.6)(791,132.9)(791,129.7)(792,127.5)(792,124.6)(793,130.2)(794,126.2)(794,128.6)(795,131.6)(795,125.7)(796,127.9)(796,122.1)(797,129.4)(797,124.1)(798,126.9)(799,130.7)(799,128.1)(800,125.3)(800,121.5)(801,127.3)(801,129.9)(802,123.5)(802,126.2)(803,128.7)(803,122.4)(804,125)(804,131.3)(805,127.4)(806,124.4)(806,129)(807,126.6)(808,122.6)(808,128.2)(809,125.6)(810,127.5)(810,123.5)(811,126.1)(812,124.3)(812,128.4)(813,122.8)
(814,126.7)(814,124.6)(815,122.7)(816,125.5)(816,127.5)(817,123.4)(818,126.1)(818,121.8)(819,124.4)(819,120)(820,122.6)(820,125.6)(821,123.5)
(821,114.6)(822,113.3)(823,114)(824,112.6)(824,113.7)(825,112.9)(826,112)(826,113.4)(827,112.6)(828,113.2)(828,111.8)(829,112.7)(830,112.1)(830,113.5)(831,111.6)(832,112.9)(832,112.2)(833,111.3)(834,112.5)(834,113.2)(835,111.8)(836,111.1)(836,112.7)(837,112.1)(838,110.9)(838,111.6)(839,112.4)(840,110.8)(840,111.5)(841,112.2)(842,110.9)(842,112.6)(843,111.5)(844,112.1)(844,110.8)(845,112.5)(846,111.3)(846,112.8)(847,111.9)(848,111.1)(848,112.4)(849,112.8)(850,111.6)(850,112.2)(851,113)(852,111.9)(852,113.3)(853,112.5)(854,113.5)(854,112)(855,113.1)
(856,113.6)(856,112.4)(857,113.2)(858,114)(858,112.7)(859,113.5)(860,114.3)(860,112.9)(861,113.8)(862,114.6)(862,113.2)(863,114.1)(864,114.9)(864,113.5)(865,114.4)(866,115.3)(866,113.8)(867,114.7)(868,115.7)(868,114.1)(869,115)(870,116)(870,114.4)(871,115.3)(872,116.4)(872,114.8)(873,115.7)(874,116.8)(874,115.2)(875,116.1)(876,117.2)(876,115.6)(877,116.5)(878,117.5)(878,115.9)(879,116.8)(880,117.7)(880,116.1)(881,117)(882,117.8)(882,116.3)(883,117.1)(884,116.5)(885,117.7)(885,116.2)(886,115.9)(887,117.3)(888,116.6)(888,117.9)(889,117)(890,116.4)(891,117.5)(892,116.8)(893,117.2)(894,116.3)(895,117.6)(896,116.9)(897,116.2)(898,117.1)(899,116.6)(900,116.9)
(856.5,113)(857.5,112.6)(858.5,113.4)(859.5,112.9)(860.5,113.6)(861.5,113.1)(862.5,113.9)(863.5,113.5)(864.5,114.2)(865.5,113.8)(866.5,114.6)(867.5,114.2)(868.5,115)(869.5,114.6)(870.5,115.2)(871.5,114.9)(872.5,115.6)(873.5,115.3)(874.5,116)(875.5,115.6)(876.5,116.3)(877.5,116)(878.5,116.7)(879.5,116.4)(880.5,116.9)(881.5,116.6)(882.5,117)
};
\addlegendentry{$SPL_{5s}$}

\addlegendimage{legend image code/.code={\path[draw=none,fill=none] (-7pt,-8.5pt) rectangle (58pt,8.5pt); \fill[firebrick, draw=firebrick!60!white, line width=0.8pt] (-7pt,-8.5pt) rectangle (42pt,8.5pt);}}
\addlegendentry{$T_{Blow}$}
\end{axis}
\pgfresetboundingbox
\path[use as bounding box] (-82pt,-51pt) rectangle (1015pt,543pt);
\end{tikzpicture}
\end{document}
